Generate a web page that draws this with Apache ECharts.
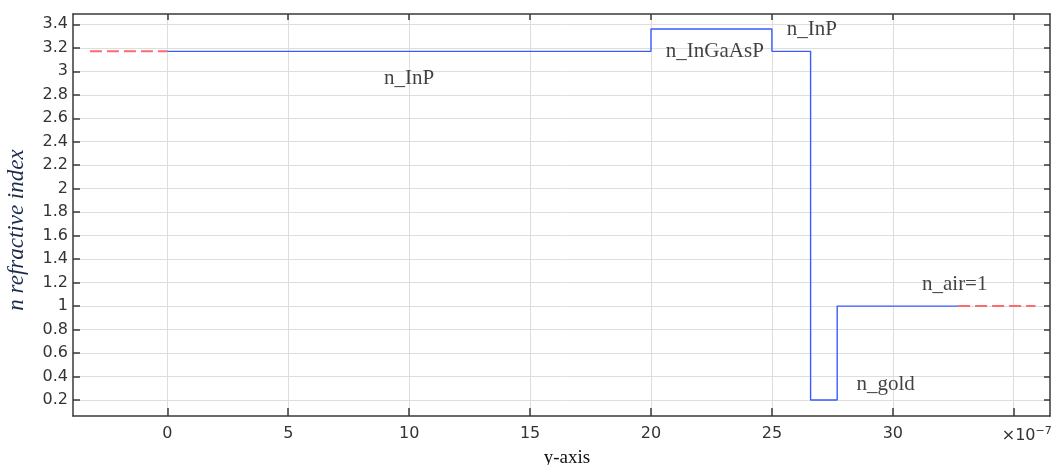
<!DOCTYPE html>
<html>
<head>
<meta charset="utf-8">
<script src="https://cdn.jsdelivr.net/npm/echarts@6/dist/echarts.min.js"></script>
<style>
  html, body { margin: 0; padding: 0; background: #ffffff; }
  #chart { width: 1053px; height: 465px; }
</style>
</head>
<body>
<div id="chart"></div>
<script>
// Layer boundaries through the stack (units of 1e-7 m)
const layerEdges = [0, 20, 25, 26.6, 27.7, 32.7];
// Refractive index of each layer between consecutive edges
const layerIndex = [3.17, 3.36, 3.17, 0.2, 1];
// Semi-infinite regions drawn as dashed extensions
const leftExtensionX = [-3.2, 0];
const leftExtensionN = 3.17;
const rightExtensionX = [32.7, 35.9];
const rightExtensionN = 1;
// Axis ticks
const xTicks = [0, 5, 10, 15, 20, 25, 30, 35];
const yTicks = [0.2, 0.4, 0.6, 0.8, 1, 1.2, 1.4, 1.6, 1.8, 2, 2.2, 2.4, 2.6, 2.8, 3, 3.2, 3.4];
const xRange = [-3.9, 36.5];
const yRange = [0.064, 3.488];
// Layer annotations: text, x, n
const annotationText = ['n_InP', 'n_InGaAsP', 'n_InP', 'n_gold', 'n_air=1'];
const annotationX = [10, 22.64, 26.65, 29.7, 32.56];
const annotationY = [2.94, 3.165, 3.36, 0.335, 1.18];

// Build the stepped profile from the layer table
const profile = [];
for (let i = 0; i < layerIndex.length; i++) {
  profile.push([layerEdges[i], layerIndex[i]]);
  profile.push([layerEdges[i + 1], layerIndex[i]]);
}
const annotations = annotationText.map((t, i) => ({ value: [annotationX[i], annotationY[i]], name: t }));

const axisColor = '#3a3a3a';
const gridColor = '#dedede';
const tickFont = { fontFamily: 'DejaVu Sans', fontSize: 16, color: '#333333' };

const chart = echarts.init(document.getElementById('chart'), null, { renderer: 'canvas' });
chart.setOption({
  animation: false,
  backgroundColor: '#ffffff',
  grid: { left: 73, right: 3, top: 14, bottom: 49, containLabel: false, outerBoundsMode: 'none' },
  xAxis: [
    {
      type: 'value', position: 'bottom', min: xRange[0], max: xRange[1],
      name: 'y-axis', nameLocation: 'middle', nameGap: 27,
      nameTextStyle: { fontFamily: 'Liberation Serif', fontSize: 19, color: '#111111', padding: [0, 0, 0, 11] },
      axisLine: { show: true, onZero: false, lineStyle: { color: axisColor, width: 1.5 } },
      axisTick: { show: true, inside: true, length: 8, customValues: xTicks, lineStyle: { color: axisColor, width: 1.5 } },
      axisLabel: {
        customValues: xTicks, margin: 10, ...tickFont,
        formatter: v => (v === 35 ? '{e|×10}{s|−7}' : String(v)),
        rich: {
          e: { fontFamily: 'DejaVu Sans', fontSize: 16, color: '#333333', padding: [0, 0, 0, 26] },
          s: { fontFamily: 'DejaVu Sans', fontSize: 11, color: '#333333', verticalAlign: 'top', padding: [0, 0, 9, 0] }
        }
      },
      splitLine: { show: true, lineStyle: { color: gridColor, width: 1 } }
    },
    {
      type: 'value', position: 'top', min: xRange[0], max: xRange[1],
      axisLine: { show: true, onZero: false, lineStyle: { color: axisColor, width: 1.5 } },
      axisTick: { show: true, inside: true, length: 6, customValues: xTicks, lineStyle: { color: axisColor, width: 1.5 } },
      axisLabel: { show: false },
      splitLine: { show: false }
    }
  ],
  yAxis: [
    {
      type: 'value', position: 'left', min: yRange[0], max: yRange[1],
      name: 'n refractive index', nameLocation: 'middle', nameGap: 45, nameRotate: 90,
      nameTextStyle: {
        fontFamily: 'Liberation Serif', fontStyle: 'italic', fontSize: 23, color: '#1c2c4c',
        padding: [0, 30, 0, 0]
      },
      axisLine: { show: true, onZero: false, lineStyle: { color: axisColor, width: 1.5 } },
      axisTick: { show: true, inside: true, length: 7, customValues: yTicks, lineStyle: { color: axisColor, width: 1.5 } },
      axisLabel: { customValues: yTicks, margin: 5, ...tickFont, formatter: v => String(+v.toFixed(1)) },
      splitLine: { show: true, lineStyle: { color: gridColor, width: 1 } }
    },
    {
      type: 'value', position: 'right', min: yRange[0], max: yRange[1],
      axisLine: { show: true, onZero: false, lineStyle: { color: axisColor, width: 1.5 } },
      axisTick: { show: true, inside: true, length: 6, customValues: yTicks, lineStyle: { color: axisColor, width: 1.5 } },
      axisLabel: { show: false },
      splitLine: { show: false }
    }
  ],
  series: [
    {
      type: 'line', name: 'extension-left', xAxisIndex: 0, yAxisIndex: 0,
      data: leftExtensionX.map(x => [x, leftExtensionN]),
      showSymbol: false, symbol: 'none',
      lineStyle: { color: '#ff6b6b', width: 2, type: [12, 5] }
    },
    {
      type: 'line', name: 'extension-right', xAxisIndex: 0, yAxisIndex: 0,
      data: rightExtensionX.map(x => [x, rightExtensionN]),
      showSymbol: false, symbol: 'none',
      lineStyle: { color: '#ff6b6b', width: 2, type: [12, 5] }
    },
    {
      type: 'line', name: 'profile', xAxisIndex: 0, yAxisIndex: 0,
      data: profile, showSymbol: false, symbol: 'none',
      lineStyle: { color: '#3a5cff', width: 1.4 }
    },
    {
      type: 'scatter', name: 'labels', xAxisIndex: 0, yAxisIndex: 0,
      data: annotations, symbolSize: 0, silent: true,
      label: {
        show: true, position: 'inside', formatter: p => p.name,
        fontFamily: 'Liberation Serif', fontSize: 21, color: '#111111'
      }
    }
  ]
});
</script>
</body>
</html>
